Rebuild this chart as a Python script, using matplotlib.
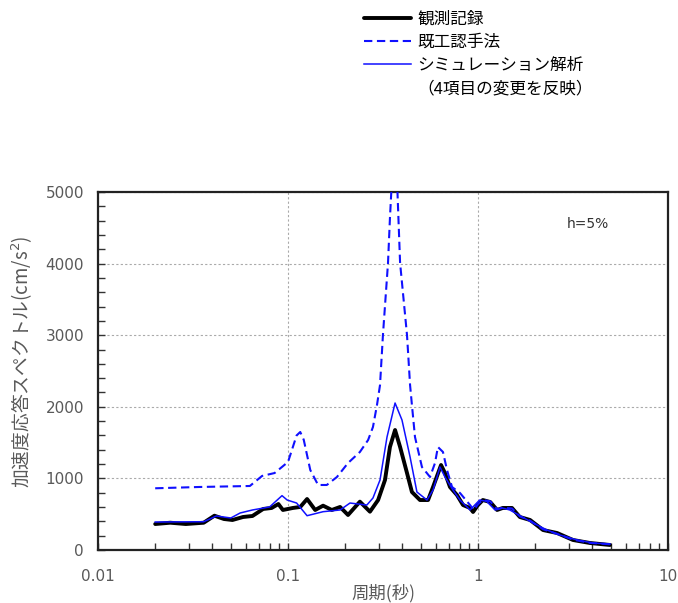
import matplotlib
matplotlib.use("Agg")
import matplotlib.pyplot as plt
from matplotlib.ticker import FixedLocator, FuncFormatter, MultipleLocator, LogLocator, NullFormatter
from matplotlib.lines import Line2D

JP = ['Noto Sans CJK JP', 'DejaVu Sans']

# ---- data (period [s], spectral acceleration [cm/s^2]) ----
obs_T = [0.020, 0.024, 0.029, 0.036, 0.041, 0.046, 0.051, 0.058, 0.065, 0.074, 0.082, 0.089, 0.094,
         0.106, 0.116, 0.126, 0.139, 0.153, 0.170, 0.188, 0.207, 0.239, 0.270, 0.298, 0.324, 0.344,
         0.366, 0.389, 0.423, 0.449, 0.495, 0.546, 0.580, 0.639, 0.670, 0.712, 0.775, 0.834, 0.908,
         0.942, 1.00, 1.06, 1.16, 1.26, 1.35, 1.51, 1.66, 1.88, 2.20, 2.61, 3.16, 3.88, 4.95]
obs_A = [363, 381, 363, 381, 479, 433, 419, 461, 475, 573, 587, 642, 559,
         587, 601, 712, 559, 619, 559, 601, 489, 675, 535, 698, 978, 1439,
         1676, 1439, 1075, 810, 698, 698, 880, 1187, 1075, 880, 768, 628, 587,
         531, 628, 698, 670, 559, 587, 587, 461, 419, 279, 237, 140, 98, 70]

old_T = [0.020, 0.034, 0.063, 0.073, 0.085, 0.100, 0.111, 0.116, 0.121, 0.131, 0.144, 0.160, 0.181,
         0.207, 0.239, 0.264, 0.280, 0.294, 0.305, 0.316, 0.336, 0.344, 0.352, 0.364, 0.375, 0.389,
         0.423, 0.439, 0.449, 0.466, 0.507, 0.559, 0.594, 0.615, 0.654, 0.687, 0.730, 0.804, 0.908,
         0.95, 1.00, 1.06, 1.16, 1.26, 1.35, 1.51, 1.66, 1.88, 2.20, 2.61, 3.16, 3.88, 4.95]
old_A = [862, 880, 894, 1034, 1075, 1229, 1600, 1648, 1540, 1117, 908, 908, 1020,
         1215, 1369, 1536, 1718, 2025, 2304, 3003, 4008, 4637, 5150, 5500, 5150, 4008,
         3003, 2304, 2025, 1578, 1159, 1020, 1215, 1439, 1369, 1117, 880, 796, 628,
         560, 640, 700, 680, 570, 590, 580, 470, 410, 290, 225, 145, 100, 80]

sim_T = [0.020, 0.036, 0.042, 0.050, 0.056, 0.065, 0.080, 0.093, 0.099, 0.111, 0.126, 0.153, 0.188,
         0.212, 0.260, 0.280, 0.305, 0.332, 0.366, 0.398, 0.439, 0.477, 0.539, 0.580, 0.631, 0.670,
         0.738, 0.804, 0.908, 1.02, 1.11, 1.23, 1.34, 1.47, 1.71, 1.95, 2.31, 2.70, 3.32, 4.03, 4.95]
sim_A = [391, 395, 475, 447, 517, 559, 601, 759, 698, 656, 479, 535, 559,
         656, 628, 726, 978, 1578, 2053, 1816, 1299, 810, 698, 838, 1159, 1020,
         838, 698, 559, 698, 680, 559, 587, 559, 461, 377, 279, 209, 140, 98, 84]

labels = ['観測記録', '既工認手法', 'シミュレーション解析', '（4項目の変更を反映）']
xtick_vals = [0.01, 0.1, 1, 10]
ytick_vals = [0, 1000, 2000, 3000, 4000, 5000]

GRAY = '#595959'
BLUE = '#1010ff'

fig = plt.figure(figsize=(6.78, 6.03), dpi=100)
ax = fig.add_axes([98/678, 53/603, 570/678, 358/603])

l_obs, = ax.plot(obs_T, obs_A, color='black', lw=2.8, zorder=3,
                 solid_joinstyle='round', solid_capstyle='round')
l_old, = ax.plot(old_T, old_A, color=BLUE, lw=1.5, dashes=(4, 2.2), zorder=4)
l_sim, = ax.plot(sim_T, sim_A, color=BLUE, lw=1.1, zorder=5)

ax.set_xscale('log')
ax.set_xlim(0.01, 10)
ax.set_ylim(0, 5000)

ax.xaxis.set_major_locator(FixedLocator(xtick_vals))
ax.xaxis.set_major_formatter(FuncFormatter(lambda v, p: '%g' % v))
ax.xaxis.set_minor_locator(LogLocator(base=10, subs=[2, 3, 4, 5, 6, 7, 8, 9]))
ax.xaxis.set_minor_formatter(NullFormatter())
ax.yaxis.set_major_locator(FixedLocator(ytick_vals))
ax.yaxis.set_minor_locator(MultipleLocator(200))

ax.tick_params(which='both', direction='in', length=5, width=1, color='#333333',
               top=False, right=False)
ax.tick_params(axis='y', which='major', labelsize=11, labelcolor=GRAY, pad=10)
ax.tick_params(axis='x', which='major', labelsize=11, labelcolor=GRAY, pad=14)

for s in ax.spines.values():
    s.set_linewidth(1.6)
    s.set_color('#222222')

ax.grid(True, which='major', color='#aaaaaa', lw=0.8, linestyle=(0, (2, 2)))
ax.set_axisbelow(True)

ax.set_ylabel('加速度応答スペクトル(cm/s$^2$)', family=JP, fontsize=13.5, color=GRAY)
ax.yaxis.set_label_coords(-0.111, 0.525)
ax.set_xlabel('周期(秒)', family=JP, fontsize=12.5, color=GRAY, labelpad=0)

ax.text(0.86, 0.91, 'h=5%', transform=ax.transAxes, fontsize=10, color='#333333',
        ha='center', va='center')

blank = Line2D([], [], color='none')
leg = fig.legend([l_obs, l_old, l_sim, blank], labels,
                 loc='upper left', bbox_to_anchor=(364/678, 1 - 11/603),
                 frameon=False, prop={'family': JP, 'size': 12},
                 handlelength=2.8, handletextpad=0.4, labelspacing=0.36,
                 borderaxespad=0, borderpad=0)

fig.savefig('out.png', dpi=100)
